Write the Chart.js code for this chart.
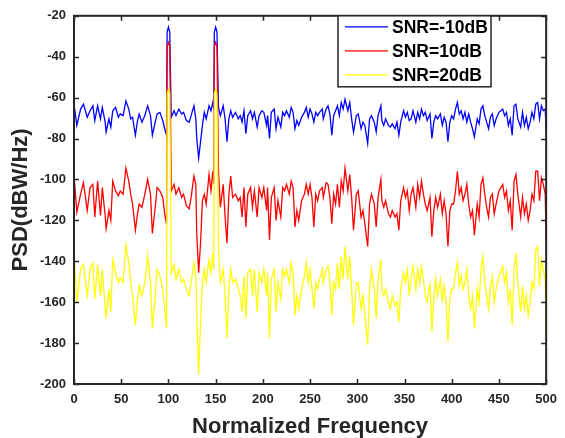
<!DOCTYPE html>
<html>
<head>
<meta charset="utf-8">
<title>PSD</title>
<script src="https://cdn.jsdelivr.net/npm/chart.js@4.4.1/dist/chart.umd.min.js"></script>
<style>
  html, body { margin: 0; padding: 0; background: #fff; }
  #wrap { width: 565px; height: 438px; }
</style>
</head>
<body>
<div id="wrap"><canvas id="psd" width="565" height="438"></canvas></div>
<script>
// sample positions (normalized frequency)
const freq = [
  0, 3, 7, 10, 14, 17, 20, 22, 25, 28, 30, 33, 34, 37, 39, 41, 44, 47, 49, 52,
  55, 58, 60, 62, 65, 67, 69, 72, 75, 78, 81, 83, 86, 88, 91, 94, 96, 98,
  98.6, 100, 101.4,
  103, 106, 108, 111, 114, 116, 119, 122, 124, 127, 129, 130, 132, 134, 136, 138, 140, 143, 145, 147, 148,
  148.6, 150, 151.4,
  153, 155, 158, 160, 162, 164, 166, 168, 171, 174, 176, 178, 180, 182, 184, 187, 189, 191, 194, 196, 199,
  201, 204, 205, 207, 209, 212, 214, 216, 219, 221, 223, 225, 228, 230, 232, 234, 236, 238, 241, 244,
  246, 248, 250, 252, 254, 256, 258, 260, 263, 264, 267, 269, 271, 273, 275, 277, 279, 281, 283, 285,
  287, 290, 292, 294, 296, 299,
  301, 304, 306, 308, 311, 313, 315, 318, 320, 322, 325, 326, 328, 330, 333, 335, 337, 340, 342, 344,
  346, 349, 351, 353, 355, 357, 359, 362, 364, 366, 368, 370, 372, 374, 377, 379, 381, 383, 385, 388,
  390, 392, 394, 396, 398, 400,
  402, 404, 406, 408, 410, 412, 414, 416, 418, 420, 422, 424, 427, 429, 431, 433, 435, 437, 439, 441,
  443, 445, 447, 450, 452, 454, 456, 458, 460, 462, 464, 466, 468, 470, 473, 475, 477, 479, 481, 483,
  485, 487, 489, 491, 493, 495, 497, 499, 500
];

// SNR=-10dB
const blueVals = [
  -63, -73.6, -65.6, -63.2, -69.6, -66.4, -64, -71.2, -64, -70.4,
  -64.8, -72, -76.8, -70.4, -74.4, -66.4, -64.8, -69.6, -68, -68.8,
  -61.6, -65.6, -70.4, -69.6, -78.4, -72, -68, -72, -68.8, -64,
  -68.8, -78.4, -72, -68, -67.2, -71.2, -75.2, -78.4,
  -28, -25.5, -28,
  -69.6, -66.4, -68.8, -65.6, -68, -67.2, -71.2, -72, -68.8, -64,
  -70.4, -80, -89.6, -81.6, -73.6, -67.2, -70.4, -64, -66.4, -62.4,
  -65.6,
  -28, -25.5, -28,
  -64.8, -68.8, -64, -70.4, -81.6, -70.4, -66.4, -69.6, -67.2, -70.4,
  -68.8, -72, -66.4, -77.6, -68.8, -66.4, -70.4, -67.2, -74.4, -68.8,
  -66.4,
  -67.2, -73.6, -68.8, -80, -67.2, -65.6, -75.2, -69.6, -74.4, -67.2,
  -68.8, -66.4, -69.6, -64.8, -67.2, -75.2, -71.2, -73.6, -69.6, -67.2,
  -64.8, -69.6, -65.6, -68, -72, -67.2, -68.8, -67.2, -65.6, -70.4,
  -65.6, -64, -68, -78.4, -68.8, -66.4, -64, -68.8, -62.4, -65.6,
  -60.8, -66.4, -62.4, -70.4, -76.8, -68.8,
  -68, -75.2, -72, -73.6, -82.4, -70.4, -68.8, -72, -76.8, -68.8,
  -64, -71.2, -73.6, -70.4, -73.6, -74.4, -72.8, -75.2, -72, -78.4,
  -72, -66.4, -69.6, -67.2, -71.2, -70.4, -66.4, -72, -67.2, -70.4,
  -65.6, -68.8, -67.2, -71.2, -68, -80, -72, -68.8, -70.4, -68,
  -73.6, -69.6, -72, -81.6, -72, -68.8,
  -70.4, -65.6, -62.4, -68, -66.4, -70.4, -67.2, -72, -68, -72,
  -75.2, -79.2, -70.4, -72.8, -65.6, -64, -68.8, -72, -75.2, -69.6,
  -68, -73.6, -70.4, -67.2, -66.4, -65.6, -68.8, -67.2, -73.6, -70.4,
  -78.4, -64, -63.2, -70.4, -74.4, -67.2, -73.6, -69.6, -75.2, -72,
  -67.2, -70.4, -63.2, -62.4, -70.4, -64, -66.4, -65.6, -77
];

// SNR=10dB
const redVals = [
  -97.6, -116, -107.2, -101.6, -115.2, -104, -102.4, -118.4, -100.8, -117.6,
  -104, -117.6, -124, -115.2, -120, -100.8, -105.6, -108, -105.6, -107.2,
  -94.4, -100.8, -107.2, -112, -124.8, -117.6, -112, -113.6, -107.2, -100,
  -107.2, -126.4, -113.6, -104, -105.6, -108.8, -116.8, -121.6,
  -35, -33, -35,
  -105.6, -102.4, -107.2, -104, -108.8, -107.2, -112.8, -114.4, -108.8, -98.4,
  -102.4, -126.4, -145.6, -131.2, -110.4, -107.2, -112, -97.6, -105.6, -96,
  -102.4,
  -35, -33, -35,
  -96, -113.6, -102.4, -118.4, -131.2, -107.2, -98.4, -108.8, -107.2, -110.4,
  -108.8, -118.4, -104, -123.2, -107.2, -104, -113.6, -105.6, -118.4, -104,
  -108.8,
  -104, -115.2, -104, -129.6, -108.8, -104, -120, -110.4, -118.4, -104,
  -105.6, -102.4, -107.2, -100.8, -104, -123.2, -115.2, -120, -110.4, -107.2,
  -102.4, -107.2, -102.4, -108.8, -123.2, -107.2, -110.4, -105.6, -104, -108.8,
  -101.6, -102.4, -108.8, -121.6, -107.2, -112, -102.4, -113.6, -100.8, -105.6,
  -94.4, -105.6, -97.6, -108.8, -124.8, -107.2,
  -105.6, -118.4, -115.2, -121.6, -132.8, -112, -107.2, -112, -123.2, -108.8,
  -100, -110.4, -113.6, -110.4, -116.8, -118.4, -115.2, -118.4, -116.8, -124.8,
  -110.4, -104, -108.8, -105.6, -115.2, -107.2, -104, -113.6, -102.4, -108.8,
  -100.8, -107.2, -112, -115.2, -108.8, -128, -115.2, -108.8, -113.6, -107.2,
  -116.8, -110.4, -116.8, -132.8, -115.2, -112,
  -112, -105.6, -96, -107.2, -104, -110.4, -107.2, -102.4, -112, -118.4,
  -115.2, -127.2, -112, -118.4, -102.4, -99.2, -107.2, -113.6, -118.4, -108.8,
  -107.2, -116.8, -112, -105.6, -104, -102.4, -108.8, -105.6, -115.2, -110.4,
  -124.8, -100.8, -97.6, -107.2, -118.4, -108.8, -116.8, -112, -120, -115.2,
  -107.2, -110.4, -96, -96, -110.4, -99.2, -102.4, -107.2, -130
];

// SNR=20dB
const yellowVals = [
  -136, -160, -144, -141.6, -156.8, -144, -140.8, -158.4, -141.6, -156.8,
  -144, -163.2, -168, -153.6, -164.8, -139.2, -145.6, -150.4, -148, -150.4,
  -132, -140.8, -150.4, -156.8, -171.2, -160, -152, -156.8, -150.4, -137.6,
  -150.4, -172.8, -156.8, -144, -147.2, -153.6, -163.2, -172.8,
  -58, -56, -58,
  -145.6, -141.6, -148.8, -144, -150.4, -148.8, -153.6, -156.8, -150.4, -140.8,
  -147.2, -166.4, -195.2, -169.6, -150.4, -144, -150.4, -139.2, -145.6, -136,
  -144,
  -58, -56, -58,
  -134.4, -150.4, -144, -156.8, -177.6, -153.6, -144, -150.4, -148.8, -153.6,
  -156.8, -164.8, -147.2, -168, -145.6, -144, -156.8, -144, -164.8, -145.6,
  -150.4,
  -144, -156.8, -145.6, -177.6, -148.8, -144, -164.8, -150.4, -158.4, -144,
  -147.2, -144, -150.4, -140.8, -145.6, -166.4, -156.8, -163.2, -153.6, -147.2,
  -140.8, -150.4, -144, -153.6, -163.2, -150.4, -153.6, -148.8, -144, -150.4,
  -144, -142.4, -150.4, -166.4, -150.4, -153.6, -140.8, -153.6, -137.6, -148.8,
  -132.8, -148.8, -137.6, -153.6, -171.2, -150.4,
  -150.4, -163.2, -156.8, -166.4, -180.8, -153.6, -144, -153.6, -168, -148.8,
  -139.2, -153.6, -156.8, -153.6, -160, -163.2, -156.8, -161.6, -160, -169.6,
  -153.6, -145.6, -150.4, -144, -156.8, -148.8, -142.4, -153.6, -144, -150.4,
  -142.4, -148.8, -156.8, -160, -150.4, -174.4, -158.4, -148.8, -156.8, -148.8,
  -160, -152, -160, -179.2, -158.4, -153.6,
  -153.6, -145.6, -140.8, -152, -147.2, -153.6, -150.4, -144, -156.8, -163.2,
  -156.8, -172.8, -153.6, -160, -144, -137.6, -150.4, -156.8, -163.2, -152,
  -147.2, -160, -153.6, -147.2, -145.6, -142.4, -150.4, -145.6, -160, -153.6,
  -171.2, -144, -136, -150.4, -164.8, -152, -163.2, -156.8, -166.4, -160,
  -150.4, -153.6, -134.4, -132.8, -152, -139.2, -144, -148.8, -178
];

const xTicks = [0, 50, 100, 150, 200, 250, 300, 350, 400, 450, 500];
const yTicks = [-200, -180, -160, -140, -120, -100, -80, -60, -40, -20];
const legendLabels = ['SNR=-10dB', 'SNR=10dB', 'SNR=20dB'];
const seriesColors = ['#0000ff', '#ff0000', '#ffff00'];

[blueVals, redVals, yellowVals].forEach((v, i) => {
  if (v.length !== freq.length) throw new Error(`series ${i}: ${v.length} vs ${freq.length}`);
});

const FONT = "'Liberation Sans', Arial, sans-serif";
const INK = '#262626';

const toPoints = vals => freq.map((f, i) => ({ x: f, y: vals[i] }));

// matlab-like box: frame, inward ticks, legend, axis titles
const frame = {
  id: 'frame',
  afterDraw(chart) {
    const { ctx, chartArea: a, scales: { x, y } } = chart;
    ctx.save();
    ctx.strokeStyle = INK;
    ctx.lineWidth = 1.5;
    ctx.beginPath();
    xTicks.forEach(v => {
      const px = Math.round(x.getPixelForValue(v)) + 0.5;
      ctx.moveTo(px, a.bottom); ctx.lineTo(px, a.bottom - 5);
      ctx.moveTo(px, a.top); ctx.lineTo(px, a.top + 5);
    });
    yTicks.forEach(v => {
      const py = Math.round(y.getPixelForValue(v)) + 0.5;
      ctx.moveTo(a.left, py); ctx.lineTo(a.left + 5, py);
      ctx.moveTo(a.right, py); ctx.lineTo(a.right - 5, py);
    });
    ctx.stroke();
    ctx.lineWidth = 2;
    ctx.strokeRect(a.left, a.top, a.right - a.left, a.bottom - a.top);

    // legend
    const lx = 338, ly = a.top, lw = 153, lh = 71;
    ctx.fillStyle = '#fff';
    ctx.fillRect(lx, ly, lw, lh);
    ctx.lineWidth = 1.5;
    ctx.strokeRect(lx, ly, lw, lh);
    ctx.font = `bold 17.5px ${FONT}`;
    ctx.textBaseline = 'middle';
    ctx.textAlign = 'left';
    legendLabels.forEach((lab, i) => {
      const ry = ly + 11 + i * 24;
      ctx.strokeStyle = seriesColors[i];
      ctx.lineWidth = 1.2;
      ctx.beginPath(); ctx.moveTo(lx + 7, ry); ctx.lineTo(lx + 50, ry); ctx.stroke();
      ctx.fillStyle = '#000';
      ctx.fillText(lab, lx + 54, ry + 1);
    });

    // axis titles
    ctx.fillStyle = INK;
    ctx.font = `bold 22px ${FONT}`;
    ctx.textAlign = 'center';
    ctx.textBaseline = 'alphabetic';
    ctx.fillText('Normalized Frequency', (a.left + a.right) / 2, 433);
    ctx.translate(21, (a.top + a.bottom) / 2);
    ctx.rotate(-Math.PI / 2);
    ctx.textBaseline = 'middle';
    ctx.fillText('PSD(dBW/Hz)', 0, 0);
    ctx.restore();
  },
};

const tickFont = { family: FONT, size: 13, weight: 'bold' };

new Chart(document.getElementById('psd'), {
  type: 'line',
  data: {
    datasets: [
      { label: legendLabels[0], data: toPoints(blueVals), borderColor: seriesColors[0], order: 3 },
      { label: legendLabels[1], data: toPoints(redVals), borderColor: seriesColors[1], order: 2 },
      { label: legendLabels[2], data: toPoints(yellowVals), borderColor: seriesColors[2], order: 1 },
    ],
  },
  options: {
    responsive: false,
    animation: false,
    devicePixelRatio: 1,
    layout: { padding: { top: 10, right: 12, left: 0, bottom: 0 } },
    elements: { point: { radius: 0 }, line: { borderWidth: 1.3, tension: 0 } },
    plugins: { legend: { display: false }, tooltip: { enabled: false } },
    scales: {
      x: {
        type: 'linear', min: 0, max: 500,
        afterBuildTicks: s => { s.ticks = xTicks.map(v => ({ value: v })); },
        afterFit: s => { s.height = 54; },
        grid: { display: false, drawTicks: false }, border: { display: false },
        ticks: { color: INK, font: tickFont, padding: 8, maxRotation: 0, autoSkip: false },
      },
      y: {
        type: 'linear', min: -200, max: -20,
        afterBuildTicks: s => { s.ticks = yTicks.map(v => ({ value: v })); },
        afterFit: s => { s.width = 74; },
        grid: { display: false, drawTicks: false }, border: { display: false },
        ticks: { color: INK, font: tickFont, padding: 8, autoSkip: false },
      },
    },
  },
  plugins: [frame],
});
</script>
</body>
</html>
